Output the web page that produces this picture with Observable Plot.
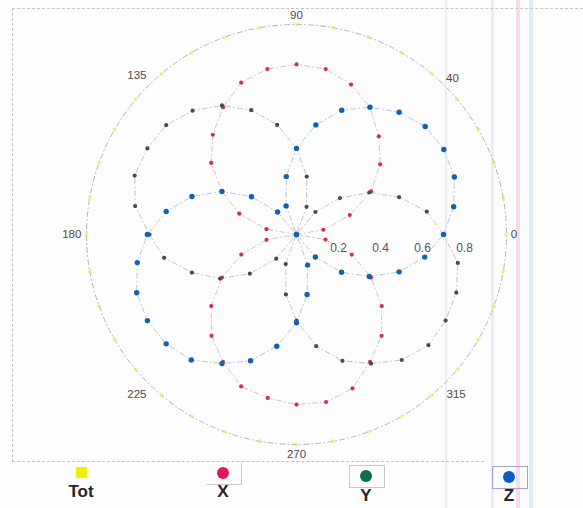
<!DOCTYPE html>
<html>
<head>
<meta charset="utf-8">
<script src="https://cdn.jsdelivr.net/npm/d3@7"></script>
<script src="https://cdn.jsdelivr.net/npm/@observablehq/plot@0.6"></script>
<style>
  body { margin: 0; background: #fff; font-family: "Liberation Sans", Arial, sans-serif; }
  #wrap { position: relative; width: 583px; height: 508px; overflow: hidden; background: #fdfdfd; }
  #chart { position: absolute; left: 0; top: 0; }
  .vline { position: absolute; top: 0; height: 508px; }
  .frame { position: absolute; border-color: #c4c4c4; border-style: dashed; border-width: 0; }
  .leg-mark { position: absolute; }
  .leg-box { position: absolute; border: 1px solid #c8c8d0; }
  .leg-label { position: absolute; font-size: 17px; font-weight: bold; color: #262626; transform: translateX(-50%); line-height: 19px; }
</style>
</head>
<body>
<div id="wrap">
  <div class="vline" style="left:445px;width:2px;background:#ececf7"></div>
  <div class="vline" style="left:491px;width:3px;background:#eeeaf6"></div>
  <div class="vline" style="left:516px;width:4px;background:#f5dcec"></div>
  <div class="vline" style="left:529px;width:4px;background:#dcedf3"></div>
  <div id="chart"></div>
  <div class="frame" style="left:12px;top:8px;width:580px;height:453px;border-top-width:1px;border-left-width:1px;"></div>
  <div class="frame" style="left:12px;top:461px;width:472px;height:0;border-top-width:1px;"></div>
  <div id="legend"></div>
</div>
<script>
// ---- data ----
const angles = [0,10,20,30,40,50,60,70,80,90,100,110,120,130,140,150,160,170,
                180,190,200,210,220,230,240,250,260,270,280,290,300,310,320,330,340,350];
const totValues = [1,1,1,1,1,1,1,1,1,1,1,1,1,1,1,1,1,1,
                   1,1,1,1,1,1,1,1,1,1,1,1,1,1,1,1,1,1];
const xValues = [0.00,0.13,0.27,0.41,0.52,0.61,0.70,0.76,0.80,0.81,0.80,0.77,0.70,0.62,0.53,0.41,0.29,0.145,
                 0.00,0.145,0.28,0.41,0.53,0.63,0.70,0.77,0.79,0.81,0.81,0.78,0.70,0.63,0.53,0.41,0.28,0.14];
const yValues = [0.70,0.63,0.52,0.40,0.27,0.14,0.00,0.14,0.28,0.41,0.53,0.63,0.71,0.77,0.81,0.82,0.82,0.78,
                 0.70,0.64,0.53,0.42,0.29,0.15,0.00,0.15,0.29,0.41,0.54,0.64,0.71,0.78,0.82,0.82,0.81,0.78];
const zValues = [0.70,0.76,0.80,0.81,0.80,0.76,0.70,0.63,0.53,0.41,0.28,0.145,0.00,0.14,0.28,0.41,0.53,0.63,
                 0.71,0.77,0.81,0.82,0.81,0.78,0.71,0.64,0.54,0.42,0.29,0.155,0.00,0.14,0.28,0.40,0.52,0.62];
const seriesNames = ["Tot", "X", "Y", "Z"];
const angleTicks = [0, 45, 90, 135, 180, 225, 270, 315];
const angleTickLabels = ["0", "40", "90", "135", "180", "225", "270", "315"];
const radialTicks = [0.2, 0.4, 0.6, 0.8];
const radialTickLabels = ["0.2", "0.4", "0.6", "0.8"];

// ---- styles ----
const dotColors = {Tot: "#e2ea2c", X: "#d03058", Y: "#3f5249", Z: "#1262b4"};
const lineColors = {Tot: "#b4b4b4", X: "#dcc0c8", Y: "#c4c4c4", Z: "#b8c6dc"};
const dotRadius = {Tot: 2.2, X: 2.1, Y: 2.1, Z: 2.7};
const legendColors = {Tot: "#f0f000", X: "#e0185a", Y: "#0b6e4f", Z: "#0a5cc4"};

const valuesBySeries = {Tot: totValues, X: xValues, Y: yValues, Z: zValues};
const rows = seriesNames.map(s => angles.map((a, i) => ({series: s, angle: a, r: valuesBySeries[s][i]})));
const rad = a => a * Math.PI / 180;
const px = d => d.r * Math.cos(rad(d.angle));
const py = d => d.r * Math.sin(rad(d.angle));

function labelRadius(a) {
  if (a === 0) return 1.035;
  if (a === 90 || a === 270) return 1.045;
  if (a === 180) return 1.07;
  if (a === 45) return 1.05;
  return 1.075;
}
const angleLabelRows = angleTicks.map((a, i) => ({angle: a, r: labelRadius(a), label: angleTickLabels[i]}));

const marks = [];
rows.forEach((data, k) => {
  const s = seriesNames[k];
  marks.push(Plot.line(data, {x: px, y: py, curve: s === "Tot" ? "catmull-rom-closed" : "linear-closed",
    stroke: lineColors[s], strokeWidth: 1, strokeDasharray: "5,3,1,3"}));
});
rows.forEach((data, k) => {
  const s = seriesNames[k];
  marks.push(Plot.dot(data, {x: px, y: py, r: dotRadius[s], fill: dotColors[s], stroke: "none",
    fillOpacity: s === "Tot" ? 0.45 : 1}));
});
marks.push(Plot.text(angleLabelRows, {x: px, y: py, text: "label", fontSize: 11.5, fill: "#4a4a4a"}));
marks.push(Plot.text(radialTicks, {x: d => d, y: () => 0, dy: 14, text: (d, i) => radialTickLabels[i],
  fontSize: 12, fill: "#555", letterSpacing: "0.5px"}));

const chart = Plot.plot({
  width: 583,
  height: 462,
  marginLeft: 86,
  marginRight: 77,
  marginTop: 24,
  marginBottom: 18,
  x: {domain: [-1, 1], axis: null},
  y: {domain: [-1, 1], axis: null},
  style: {background: "transparent", fontFamily: "Liberation Sans, Arial, sans-serif", overflow: "visible"},
  marks
});
document.getElementById("chart").appendChild(chart);

// ---- legend (below the SVG) ----
const legend = document.getElementById("legend");
const legendPos = {Tot: [81, 472], X: [223, 473], Y: [366, 476], Z: [509, 477]};
seriesNames.forEach(s => {
  const [cx, cy] = legendPos[s];
  if (s !== "Tot") {
    const box = document.createElement("div");
    box.className = "leg-box";
    box.style.left = (cx - 17) + "px";
    box.style.top = (cy - 11) + "px";
    box.style.width = "34px";
    box.style.height = "21px";
    if (s === "X") { box.style.borderTopColor = "transparent"; box.style.borderLeftColor = "transparent"; }
    if (s === "Z") box.style.borderColor = "#a8a2d4";
    legend.appendChild(box);
  }
  const m = document.createElement("div");
  m.className = "leg-mark";
  const size = s === "Tot" ? 11 : 12;
  m.style.left = (cx - size / 2) + "px";
  m.style.top = (cy - size / 2) + "px";
  m.style.width = size + "px";
  m.style.height = size + "px";
  m.style.background = legendColors[s];
  m.style.borderRadius = s === "Tot" ? "1px" : "50%";
  legend.appendChild(m);
  const t = document.createElement("div");
  t.className = "leg-label";
  t.textContent = s;
  t.style.left = cx + "px";
  t.style.top = (s === "Tot" || s === "X" ? 482 : 486) + "px";
  legend.appendChild(t);
});
</script>
</body>
</html>
